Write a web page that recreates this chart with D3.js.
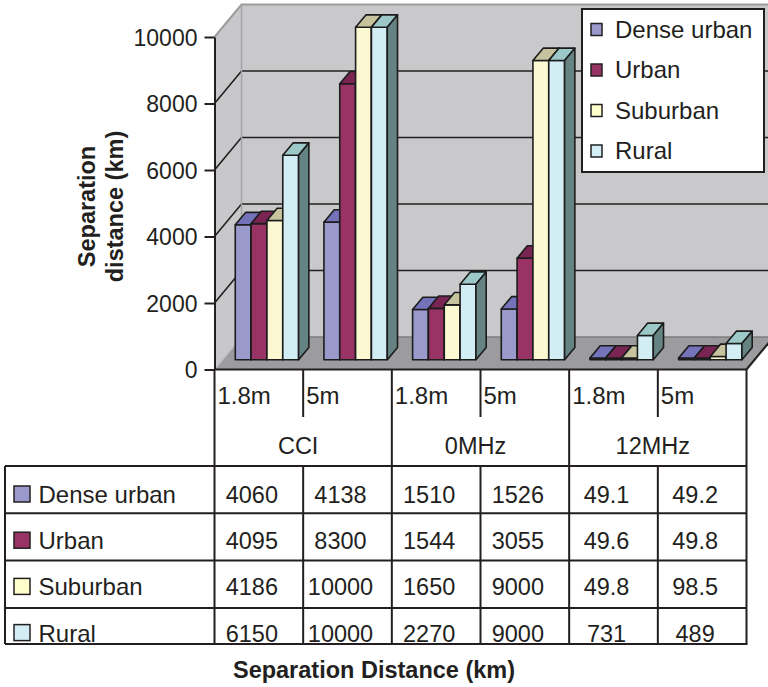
<!DOCTYPE html>
<html>
<head>
<meta charset="utf-8">
<script src="https://cdn.jsdelivr.net/npm/d3@7"></script>
<style>
  html, body { margin: 0; padding: 0; background: #ffffff; }
  svg text { font-family: "Liberation Sans", Arial, Helvetica, sans-serif; fill: #231f20; }
</style>
</head>
<body>
<svg id="chart" width="768" height="687"></svg>
<script>
// ---- data ----
const groups = ["CCI", "0MHz", "12MHz"];
const sizes = ["1.8m", "5m"];
const seriesNames = ["Dense urban", "Urban", "Suburban", "Rural"];
const denseUrban = [4060, 4138, 1510, 1526, 49.1, 49.2];
const urban      = [4095, 8300, 1544, 3055, 49.6, 49.8];
const suburban   = [4186, 10000, 1650, 9000, 49.8, 98.5];
const rural      = [6150, 10000, 2270, 9000, 731, 489];
const yTicks = [0, 2000, 4000, 6000, 8000, 10000];

const seriesValues = [denseUrban, urban, suburban, rural];
// front / top / side shading for each series
const frontColors = ["#9a99cc", "#993366", "#fcf9d2", "#d3edf5"];
const topColors   = ["#7472b9", "#7a2453", "#c6c39e", "#9cc9c8"];
const sideColors  = ["#55548a", "#5c1c3e", "#98957a", "#658382"];
const keyColors   = ["#9999cc", "#993366", "#ffffcc", "#d3edf5"];

const categories = groups.flatMap(g => sizes.map(s => g + "|" + s));

// ---- layout ----
const W = 768;
const axX = 214.5;          // front vertical axis
const xEnd = 746.5;         // right end of floor / table
const DX = 27, DY = -32.5;  // full depth offset of the chart box
const t0 = 0.30, t1 = 0.68; // depth of bar front and back faces

const svg = d3.select("#chart");

const y = d3.scaleLinear().domain([0, 10000]).range([369.5, 37]);
const cat = d3.scaleBand().domain(categories).range([axX, xEnd]);
const grp = d3.scaleBand().domain(groups).range([axX, xEnd]);
const ser = d3.scaleBand().domain(seriesNames).range([0, cat.bandwidth()]).paddingOuter(0.8);

const ink = "#231f20";
const pts = a => a.map(p => p.join(",")).join(" ");

// ---- walls and floor ----
const y0 = y(0), yTop = y(10000);
svg.append("polygon")
  .attr("points", pts([[axX, y0], [axX, yTop], [axX + DX, yTop + DY], [axX + DX, y0 + DY]]))
  .attr("fill", "#c8c8ca");
svg.append("polygon")
  .attr("points", pts([[axX + DX, yTop + DY], [W + 20, yTop + DY], [W + 20, y0 + DY], [axX + DX, y0 + DY]]))
  .attr("fill", "#c9c9cb");

// gridlines on side wall and back wall
const grid = yTicks.filter(v => v > 0 && v < 10000);
const gGrid = svg.append("g").attr("stroke", ink).attr("stroke-width", 1.6).attr("fill", "none");
grid.forEach(v => {
  gGrid.append("polyline")
    .attr("points", pts([[axX, y(v)], [axX + DX, y(v) + DY], [W + 20, y(v) + DY]]));
});

// wall edges
svg.append("polyline")
  .attr("points", pts([[axX, yTop], [axX + DX, yTop + DY], [W + 20, yTop + DY]]))
  .attr("fill", "none").attr("stroke", "#9c9c9e").attr("stroke-width", 2);
svg.append("line")
  .attr("x1", axX + DX).attr("x2", axX + DX).attr("y1", yTop + DY).attr("y2", y0 + DY)
  .attr("stroke", "#a4a4a6").attr("stroke-width", 1.5);

// floor
svg.append("polygon")
  .attr("points", pts([[axX, y0], [xEnd, y0], [xEnd + DX, y0 + DY], [axX + DX, y0 + DY]]))
  .attr("fill", "#9c9c9e");
svg.append("line")
  .attr("x1", axX + DX).attr("x2", W + 20).attr("y1", y0 + DY).attr("y2", y0 + DY)
  .attr("stroke", "#7c7c7e").attr("stroke-width", 1.5);
svg.append("line")
  .attr("x1", axX).attr("y1", y0).attr("x2", axX + DX).attr("y2", y0 + DY)
  .attr("stroke", "#bdbdbf").attr("stroke-width", 1.2);
svg.append("line")
  .attr("x1", xEnd).attr("y1", y0).attr("x2", xEnd + DX).attr("y2", y0 + DY)
  .attr("stroke", ink).attr("stroke-width", 2);

// ---- 3D bars ----
const gBars = svg.append("g")
  .attr("stroke", "#1c1c1c").attr("stroke-width", 1.6).attr("stroke-linejoin", "round");
const ddx = (t1 - t0) * DX, ddy = (t1 - t0) * DY;
categories.forEach((c, ci) => {
  seriesNames.forEach((s, si) => {
    const v = seriesValues[si][ci];
    const xl = cat(c) + ser(s) + t0 * DX;
    const xr = xl + ser.bandwidth();
    const yb = y(0) + t0 * DY;
    const yt = y(v) + t0 * DY;
    const b = gBars.append("g");
    b.append("polygon")
      .attr("points", pts([[xl, yt], [xr, yt], [xr, yb], [xl, yb]]))
      .attr("fill", frontColors[si]);
    b.append("polygon")
      .attr("points", pts([[xl, yt], [xr, yt], [xr + ddx, yt + ddy], [xl + ddx, yt + ddy]]))
      .attr("fill", topColors[si]);
    b.append("polygon")
      .attr("points", pts([[xr, yt], [xr + ddx, yt + ddy], [xr + ddx, yb + ddy], [xr, yb]]))
      .attr("fill", sideColors[si]);
  });
});

// ---- value axis ----
const gAxis = svg.append("g")
  .attr("transform", `translate(${axX},0)`)
  .call(d3.axisLeft(y).tickValues(yTicks).tickFormat(d3.format("d"))
    .tickSize(10).tickSizeOuter(0).tickPadding(7));
gAxis.select(".domain").attr("stroke", ink).attr("stroke-width", 2);
gAxis.selectAll(".tick line").attr("stroke", ink).attr("stroke-width", 2);
gAxis.selectAll(".tick text")
  .attr("font-size", 23).attr("font-family", null).attr("fill", ink)
  .attr("dy", "0.36em");

// axis titles
const yTitle = svg.append("g").attr("font-weight", "bold").attr("font-size", 23.5).attr("text-anchor", "middle");
yTitle.append("text").attr("transform", "translate(95,206.5) rotate(-90)").text("Separation");
yTitle.append("text").attr("transform", "translate(122.5,206.5) rotate(-90)").text("distance (km)");

svg.append("text")
  .attr("x", 374).attr("y", 678)
  .attr("text-anchor", "middle").attr("font-weight", "bold").attr("font-size", 23.5)
  .text("Separation Distance (km)");

// ---- legend ----
const legend = svg.append("g");
legend.append("rect")
  .attr("x", 582).attr("y", 9).attr("width", 182).attr("height", 163)
  .attr("fill", "#ffffff").attr("stroke", ink).attr("stroke-width", 2);
const legY = d3.scaleLinear().domain([0, 3]).range([37.5, 159]);
seriesNames.forEach((s, i) => {
  legend.append("rect")
    .attr("x", 591).attr("y", legY(i) - 14).attr("width", 11).attr("height", 12)
    .attr("fill", keyColors[i]).attr("stroke", ink).attr("stroke-width", 1.5);
  legend.append("text")
    .attr("x", 615).attr("y", legY(i)).attr("font-size", 24).text(s);
});

// ---- data table ----
const tableTop = 466, tableBottom = 644, tableLeft = 5;
const headTop = y0, subBottom = 417;
const rowTop = d3.scaleLinear().domain([0, 4]).range([tableTop, tableTop + 4 * 47.3]);
const rowText = d3.scaleLinear().domain([0, 3]).range([503, 641.6]);

const gTab = svg.append("g").attr("stroke", ink).attr("stroke-width", 2).attr("fill", "none");
// horizontal rules
gTab.append("line").attr("x1", axX).attr("x2", xEnd).attr("y1", headTop).attr("y2", headTop);
[0, 1, 2, 3].forEach(i => {
  gTab.append("line").attr("x1", tableLeft).attr("x2", xEnd)
    .attr("y1", rowTop(i)).attr("y2", rowTop(i));
});
gTab.append("line").attr("x1", tableLeft).attr("x2", xEnd + 1).attr("y1", tableBottom).attr("y2", tableBottom);
// vertical rules
gTab.append("line").attr("x1", tableLeft).attr("x2", tableLeft).attr("y1", tableTop).attr("y2", tableBottom);
groups.forEach(g => {
  gTab.append("line").attr("x1", grp(g)).attr("x2", grp(g)).attr("y1", headTop).attr("y2", tableBottom);
});
gTab.append("line").attr("x1", xEnd).attr("x2", xEnd).attr("y1", headTop).attr("y2", tableBottom);
categories.filter((c, i) => i % 2 === 1).forEach(c => {
  gTab.append("line").attr("x1", cat(c)).attr("x2", cat(c)).attr("y1", headTop).attr("y2", subBottom);
  gTab.append("line").attr("x1", cat(c)).attr("x2", cat(c)).attr("y1", tableTop).attr("y2", tableBottom);
});

// header labels
categories.forEach((c, i) => {
  svg.append("text").attr("x", cat(c) + 3).attr("y", 404)
    .attr("font-size", 24).text(sizes[i % 2]);
});
groups.forEach(g => {
  svg.append("text").attr("x", grp(g) + grp.bandwidth() / 2 - 5).attr("y", 453.5)
    .attr("text-anchor", "middle").attr("font-size", 23.5).text(g);
});

// row keys, names and values
seriesNames.forEach((s, si) => {
  const by = rowText(si);
  svg.append("rect")
    .attr("x", 14).attr("y", by - 17).attr("width", 16).attr("height", 16)
    .attr("fill", keyColors[si]).attr("stroke", ink).attr("stroke-width", 1.5);
  svg.append("text").attr("x", 38.5).attr("y", by).attr("font-size", 24).text(s);
  categories.forEach((c, ci) => {
    svg.append("text")
      .attr("x", cat(c) + cat.bandwidth() / 2 - 7).attr("y", by)
      .attr("text-anchor", "middle").attr("font-size", 23.5)
      .text(String(seriesValues[si][ci]));
  });
});
</script>
</body>
</html>
